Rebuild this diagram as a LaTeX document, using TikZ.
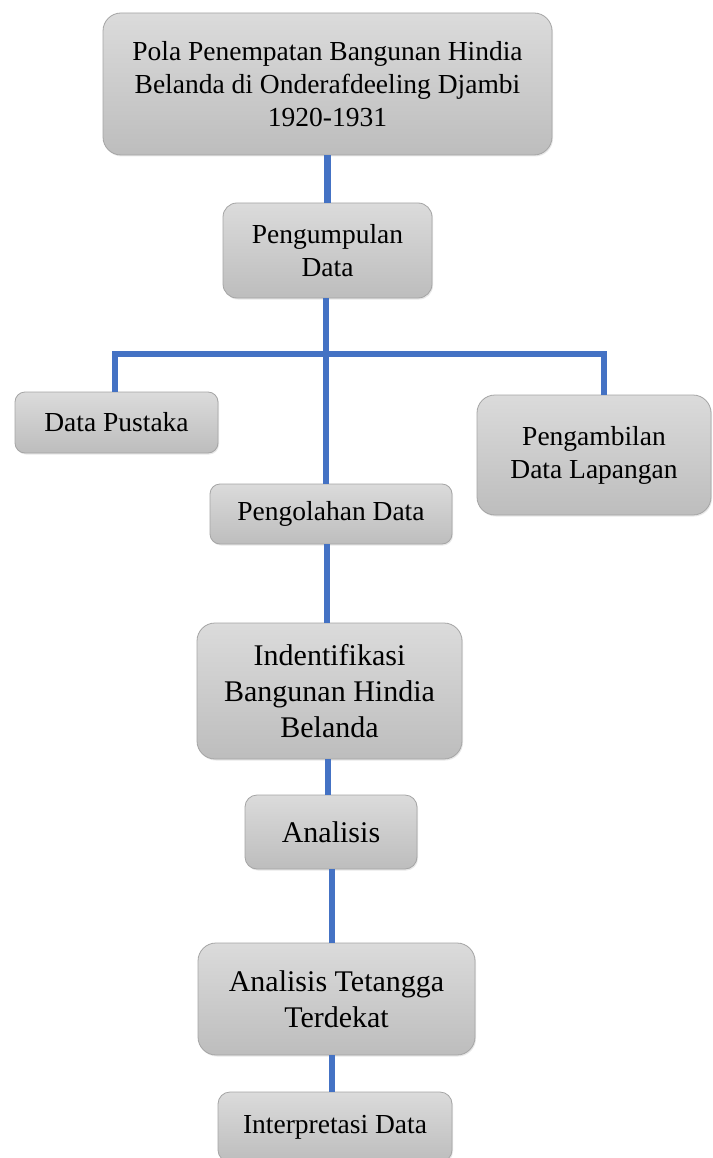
\documentclass[tikz,border=0pt]{standalone}
\usepackage{fontspec}
\setmainfont{Liberation Serif}
\usetikzlibrary{shadows}
\definecolor{boxtop}{RGB}{219,219,219}
\definecolor{boxbot}{RGB}{189,189,189}
\definecolor{boxline}{RGB}{165,165,165}
\definecolor{linkblue}{RGB}{68,114,196}
\begin{document}
\begin{tikzpicture}[x=1pt,y=-1pt,
  box/.style={draw=boxline, line width=0.8pt, rounded corners=#1,
    top color=boxtop, bottom color=boxbot, align=center, inner sep=0pt,
    text=black, drop shadow={opacity=0.18, shadow xshift=1pt, shadow yshift=-1.5pt}},
  box/.default=12pt,
  small/.style={font=\fontsize{27.5}{33}\selectfont},
  big/.style={font=\fontsize{30}{36}\selectfont},
  link/.style={draw=linkblue, line width=6.5pt}]
\useasboundingbox[fill=white] (0,0) rectangle (712,1158);
\clip (0,0) rectangle (712,1158);

\node[box=18pt, small, minimum width=449pt, minimum height=142pt] (top) at (327.5,84)
  {Pola Penempatan Bangunan Hindia\\Belanda di Onderafdeeling Djambi\\1920-1931};
\node[box=14pt, small, minimum width=209pt, minimum height=95pt] (peng) at (327.5,250.5)
  {Pengumpulan\\Data};
\node[box=10pt, small, minimum width=203pt, minimum height=61pt] (pustaka) at (116.5,422.5)
  {Data Pustaka};
\node[box=18pt, small, minimum width=234pt, minimum height=120pt] (ambil) at (594,455)
  {Pengambilan\\Data Lapangan};
\node[box=10pt, small, minimum width=242pt, minimum height=60pt] (olah) at (331,514)
  {Pengolahan Data};
\node[box=18pt, big, minimum width=265pt, minimum height=136pt] (ident) at (329.5,691)
  {Indentifikasi\\Bangunan Hindia\\Belanda};
\node[box=12pt, big, minimum width=172pt, minimum height=74pt] (anal) at (331,832)
  {Analisis};
\node[box=18pt, big, minimum width=277pt, minimum height=112pt] (tet) at (336.5,999)
  {Analisis Tetangga\\Terdekat};
\node[box=12pt, small, minimum width=234pt, minimum height=70pt] (interp) at (335,1127)
  {Interpretasi Data};

\coordinate (barL) at (115,354);
\coordinate (barR) at (604,354);

\draw[link] (top.south) -- (peng.north);
\draw[link] ([xshift=-1.5pt]peng.south) -- ([xshift=-1.5pt]peng.south |- olah.north);
\draw[link] (pustaka.north -| barL) -- (barL) -- (barR) -- (barR |- ambil.north);
\draw[link] ([xshift=-4pt]olah.south) -- ([xshift=-4pt]olah.south |- ident.north);
\draw[link] ([xshift=-1.5pt]ident.south) -- ([xshift=-1.5pt]ident.south |- anal.north);
\draw[link] ([xshift=1pt]anal.south) -- ([xshift=1pt]anal.south |- tet.north);
\draw[link] ([xshift=-3pt]interp.north) -- ([xshift=-3pt]interp.north |- tet.south);
\end{tikzpicture}
\end{document}
